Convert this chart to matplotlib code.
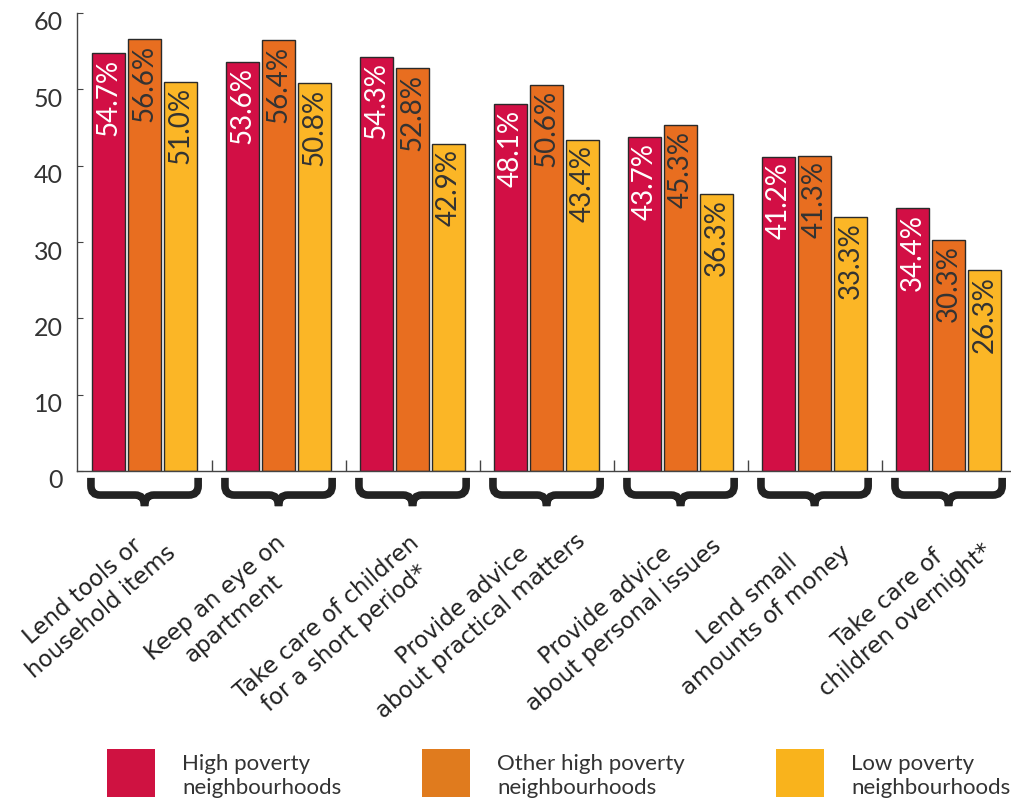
import numpy as np
import matplotlib
matplotlib.use("Agg")
import matplotlib.pyplot as plt
from matplotlib.path import Path
from matplotlib.patches import PathPatch, Rectangle
from matplotlib.transforms import ScaledTranslation

# %% data

categories = [
    "Lend tools or\nhousehold items",
    "Keep an eye on\napartment",
    "Take care of children\nfor a short period*",
    "Provide advice\nabout practical matters",
    "Provide advice\nabout personal issues",
    "Lend small\namounts of money",
    "Take care of\nchildren overnight*",
]
high_poverty = [54.7, 53.6, 54.3, 48.1, 43.7, 41.2, 34.4]
other_high_poverty = [56.6, 56.4, 52.8, 50.6, 45.3, 41.3, 30.3]
low_poverty = [51.0, 50.8, 42.9, 43.4, 36.3, 33.3, 26.3]
series_names = [
    "High poverty\nneighbourhoods",
    "Other high poverty\nneighbourhoods",
    "Low poverty\nneighbourhoods",
]

# %% style

bar_colors = ["#D20F45", "#E86E20", "#FBB626"]
legend_colors = ["#CF1241", "#E07B1E", "#F9B31C"]
text_colors = ["white", "#333333", "#333333"]
dark = "#333333"
num_font = "Lato"
lab_font = "DejaVu Sans"

# centre of each rotated category label, relative to its group (x in group units, y in data units)
label_dx = [-0.39, -0.40, -0.57, -0.56, -0.49, -0.43, -0.385]
label_y = [-17.1, -18.0, -20.6, -18.9, -18.9, -18.2, -18.2]

fig = plt.figure(figsize=(10.11, 8.02), dpi=100)
ax = fig.add_axes([77 / 1011, 331 / 802, 934 / 1011, 458 / 802])

x = np.arange(len(categories))
width = 0.246
offsets = [-0.27, 0.0, 0.27]
series = [high_poverty, other_high_poverty, low_poverty]

for vals, off, col, tcol in zip(series, offsets, bar_colors, text_colors):
    bars = ax.bar(x + off, vals, width=width, color=col, edgecolor="#2a2a2a",
                  linewidth=1.0, zorder=2)
    for b, v in zip(bars, vals):
        ax.annotate(f"{v:.1f}%", (b.get_x() + b.get_width() / 2, v),
                    xytext=(0, -4), textcoords="offset points",
                    rotation=90, ha="center", va="top", color=tcol,
                    fontsize=20, family=num_font, zorder=3)

ax.set_xlim(-0.504, 6.466)
ax.set_ylim(0, 60)

for s in ["top", "right"]:
    ax.spines[s].set_visible(False)
for s in ["left", "bottom"]:
    ax.spines[s].set_color("#444444")
    ax.spines[s].set_linewidth(1.0)

ax.set_yticks([0, 10, 20, 30, 40, 50, 60])
ax.tick_params(axis="y", direction="in", length=4, color="#444444",
               labelsize=18, labelcolor=dark, pad=10)
for lab in ax.get_yticklabels():
    lab.set_family(num_font)
    lab.set_transform(lab.get_transform() +
                      ScaledTranslation(0, -8 / 100, fig.dpi_scale_trans))

ax.set_xticks([])
ax.set_xticks(x[:-1] + 0.5, minor=True)
ax.tick_params(axis="x", which="minor", direction="in", length=8,
               color="#444444", width=1.0)


# %% braces under each group

def draw_brace(xc, half=0.40, y_top=-0.9, y_mid=-3.15, y_tip=-4.6):
    x0, x1 = xc - half, xc + half
    rx = 0.07
    ry = 1.2
    verts = [
        (x0, y_top),
        (x0, y_mid + ry),
        (x0, y_mid), (x0 + rx, y_mid),
        (xc - rx, y_mid),
        (xc, y_mid), (xc, y_tip),
        (xc, y_mid), (xc + rx, y_mid),
        (x1 - rx, y_mid),
        (x1, y_mid), (x1, y_mid + ry),
        (x1, y_top),
    ]
    codes = [Path.MOVETO, Path.LINETO,
             Path.CURVE3, Path.CURVE3,
             Path.LINETO,
             Path.CURVE3, Path.CURVE3,
             Path.CURVE3, Path.CURVE3,
             Path.LINETO,
             Path.CURVE3, Path.CURVE3,
             Path.LINETO]
    p = PathPatch(Path(verts, codes), facecolor="none", edgecolor="#222222",
                  linewidth=5.5, capstyle="butt", joinstyle="miter",
                  clip_on=False)
    ax.add_patch(p)


for xi in x:
    draw_brace(xi)

# %% rotated category labels

for xi, lab, dx, ly in zip(x, categories, label_dx, label_y):
    ax.text(xi + dx, ly, lab, rotation=41, rotation_mode="anchor",
            ha="center", va="center", multialignment="center",
            fontsize=16.5, family=lab_font, color="#222222",
            linespacing=1.25, clip_on=False)

# %% legend

leg_x = [107, 422, 776]
for lx, name, col in zip(leg_x, series_names, legend_colors):
    fig.add_artist(Rectangle((lx / 1011, 5 / 802), 48 / 1011, 48 / 802,
                             transform=fig.transFigure, color=col,
                             linewidth=0))
    fig.text((lx + 75) / 1011, 26 / 802, name, ha="left", va="center",
             fontsize=16, family=num_font, color=dark, linespacing=1.2)

fig.savefig("out.png", dpi=100)
